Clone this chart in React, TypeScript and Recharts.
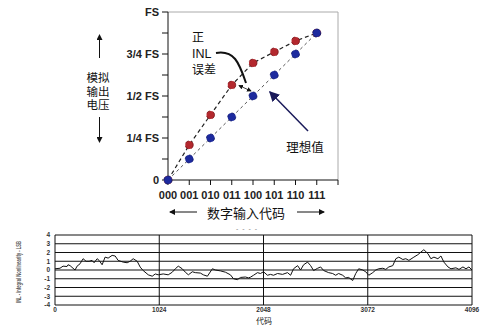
import { LineChart, Line, XAxis, YAxis, CartesianGrid, ReferenceLine } from 'recharts';

// top chart: 3-bit DAC transfer function
const inputCodes = ['000', '001', '010', '011', '100', '101', '110', '111'];
const idealOutput = [0, 1, 2, 3, 4, 5, 6, 7]; // in 1/8 FS
const actualOutput = [0, 1.67, 3.1, 4.52, 5.57, 6.1, 6.62, 7];
const fsTicks = [0, 1, 2, 3, 4, 5, 6, 7, 8];
const fsLabels: Record<number, string> = { 0: '0', 2: '1/4 FS', 4: '1/2 FS', 6: '3/4 FS', 8: 'FS' };

// bottom chart: INL vs code
const inlCodes = [
    0, 49, 79, 118, 128, 148, 177, 197, 217, 246, 276, 305, 335, 364, 384, 414, 433, 463, 492, 522,
    561, 591, 620, 670, 709, 738, 768, 807, 837, 866, 916, 955, 985, 1014, 1063, 1112, 1152, 1182,
    1211, 1250, 1280, 1310, 1349, 1378, 1428, 1457, 1497, 1546, 1575, 1625, 1674, 1723, 1753, 1792,
    1822, 1871, 1900, 1920, 1950, 1989, 2018, 2048, 2087, 2117, 2146, 2186, 2235, 2284, 2314, 2343,
    2383, 2412, 2442, 2481, 2511, 2540, 2580, 2609, 2639, 2688, 2727, 2757, 2786, 2826, 2855, 2885,
    2924, 2954, 2983, 3023, 3052, 3082, 3121, 3151, 3180, 3220, 3249, 3279, 3318, 3348, 3377, 3417,
    3446, 3476, 3525, 3564, 3594, 3623, 3663, 3692, 3722, 3761, 3791, 3820, 3860, 3889, 3938, 3968,
    4007, 4037, 4066, 4096,
];
const inlValues = [
    0.14, 0.2, 0.44, 0.4, 0.6, 0.5, 0.2, 0.0, 0.44, 0.71, 1.29, 1.0, 1.0, 1.1, 0.83, 1.29, 1.1, 0.6, 1.47, 1.36,
    1.67, 1.6, 1.1, 0.9, 0.83, 1.0, 1.29, 1.0, 0.33, -0.06, -0.55, -0.71, -0.45, -0.55, -0.45, -0.55, -0.25, 0.14,
    0.44, 0.14, -0.25, -0.55, -0.2, -0.3, -0.35, -0.55, -0.71, 0.14, 0.0, -0.1, -0.25, -0.55, -1.0, -1.1,
    -0.85, -0.8, -0.9, -0.82, -0.6, -0.3, -0.4, -0.2, -0.6, -0.5, -0.6, -0.4, -0.5, -0.3, -0.6, 0.14,
    0.5, 0.0, 0.6, 0.9, 0.5, -0.06, 0.2, 0.35, -0.06, -0.3, -0.4, -0.6, -0.4, -0.6, -0.9, -0.85,
    -1.2, -0.4, 0.14, 0.0, -0.2, -0.6, -0.3, 0.0, 0.14, 0.2, 0.07, 0.35, 0.5, 1.29, 1.47, 1.2,
    1.29, 1.1, 1.47, 1.75, 2.05, 2.32, 1.87, 1.29, 1.47, 1.29, 1.6, 0.9, 0.35, 0.14, 0.25, 0.07,
    0.35, 0.14, 0.35, 0.0,
];
const inlXTicks = [0, 1024, 2048, 3072, 4096];
const inlYTicks = [-4, -3, -2, -1, 0, 1, 2, 3, 4];

const dacData = inputCodes.map((code, i) => ({ x: i, code, ideal: idealOutput[i], actual: actualOutput[i] }));
const inlData = inlCodes.map((c, i) => ({ code: c, inl: inlValues[i] }));

const latin = '"Liberation Sans", Arial, sans-serif';
const cjk = '"Noto Sans CJK SC", sans-serif';
const tickStyle = { fontSize: 11, fontWeight: 'bold' as const, fill: '#222', fontFamily: latin };
const smallTick = { fontSize: 6.5, fontWeight: 'bold' as const, fill: '#333', fontFamily: latin };

function DacChart() {
    return (
        <LineChart width={500} height={225} data={dacData} margin={{ top: 12, right: 162, left: 108, bottom: 15 }}>
            <ReferenceLine y={8} stroke="#aaa" />
            <ReferenceLine x={8} stroke="#aaa" />
            <XAxis
                dataKey="x"
                type="number"
                domain={[0, 8]}
                ticks={fsTicks}
                interval={0}
                height={30}
                tickSize={5}
                tickMargin={6}
                stroke="#111"
                tick={tickStyle}
                tickFormatter={(v: number) => inputCodes[v] ?? ''}
            />
            <YAxis
                type="number"
                domain={[0, 8]}
                ticks={fsTicks}
                interval={0}
                width={60}
                tickSize={6}
                tickMargin={3}
                stroke="#111"
                tick={tickStyle}
                tickFormatter={(v: number) => fsLabels[v] ?? ''}
            />
            <Line
                dataKey="actual"
                stroke="#222"
                strokeWidth={1.2}
                strokeDasharray="4 3"
                dot={{ r: 4, fill: '#b3282e', stroke: '#7a1a1e', strokeWidth: 0.8 }}
                isAnimationActive={false}
            />
            <Line
                dataKey="ideal"
                stroke="#555"
                strokeWidth={1}
                strokeDasharray="3 3"
                dot={{ r: 4, fill: '#1d2a9e', stroke: '#111a6a', strokeWidth: 0.8 }}
                isAnimationActive={false}
            />
        </LineChart>
    );
}

function InlChart() {
    return (
        <LineChart width={500} height={100} data={inlData} margin={{ top: 10, right: 28, left: 35, bottom: 8 }}>
            <CartesianGrid stroke="#111" strokeWidth={1} />
            <XAxis
                dataKey="code"
                type="number"
                domain={[0, 4096]}
                ticks={inlXTicks}
                interval={0}
                height={12}
                tickSize={0}
                tickMargin={2}
                axisLine={false}
                tick={smallTick}
            />
            <YAxis
                type="number"
                domain={[-4, 4]}
                ticks={inlYTicks}
                interval={0}
                width={20}
                tickSize={0}
                tickMargin={5}
                axisLine={false}
                tick={smallTick}
            />
            <Line
                dataKey="inl"
                type="linear"
                stroke="#111"
                strokeWidth={1}
                dot={false}
                isAnimationActive={false}
            />
        </LineChart>
    );
}

function Annotations() {
    return (
        <svg width={500} height={325} style={{ position: 'absolute', left: 0, top: 0, pointerEvents: 'none' }}>
            <defs>
                <marker id="ah" markerWidth="6" markerHeight="6" refX="5" refY="3" orient="auto-start-reverse">
                    <path d="M0,0 L6,3 L0,6 Z" fill="#111" />
                </marker>
                <marker id="ahNavy" markerWidth="7" markerHeight="7" refX="6" refY="3.5" orient="auto">
                    <path d="M0,0 L7,3.5 L0,7 Z" fill="#1a1a5a" />
                </marker>
            </defs>
            {/* y axis title */}
            <line x1={99.5} y1={58} x2={99.5} y2={35} stroke="#111" strokeWidth={1} markerEnd="url(#ah)" />
            <line x1={99.5} y1={117} x2={99.5} y2={142} stroke="#111" strokeWidth={1} markerEnd="url(#ah)" />
            <g fontFamily={cjk} fontSize={11.5} fill="#111" textAnchor="middle">
                <text x={98} y={82}>模拟</text>
                <text x={98} y={95.5}>输出</text>
                <text x={98} y={109}>电压</text>
            </g>
            {/* x axis title */}
            <line x1={197} y1={212} x2={170} y2={212} stroke="#111" strokeWidth={1} markerEnd="url(#ah)" />
            <line x1={297} y1={212} x2={324} y2={212} stroke="#111" strokeWidth={1} markerEnd="url(#ah)" />
            <text x={246} y={218} fontFamily={cjk} fontSize={13} fill="#111" textAnchor="middle">数字输入代码</text>
            {/* positive INL callout */}
            <text x={192} y={42} fontFamily={cjk} fontSize={12} fill="#111">正</text>
            <text x={192} y={58} fontFamily={latin} fontSize={12.5} fill="#111">INL</text>
            <text x={192} y={74} fontFamily={cjk} fontSize={12} fill="#111">误差</text>
            <path d="M216,53 C234,50 239,62 246,83" fill="none" stroke="#111" strokeWidth={2} />
            <line x1={239} y1={85.5} x2={251} y2={91} stroke="#111" strokeWidth={0.8} markerStart="url(#ah)" markerEnd="url(#ah)" />
            {/* ideal callout */}
            <line x1={308} y1={131} x2={270} y2={92} stroke="#1a1a5a" strokeWidth={1.5} markerEnd="url(#ahNavy)" />
            <text x={305} y={152} fontFamily={cjk} fontSize={12.5} fill="#111" textAnchor="middle">理想值</text>
            {/* bottom chart extras */}
            <text x={247} y={231} fontFamily={latin} fontSize={7} fill="#888" textAnchor="middle" letterSpacing={1}>- - - -</text>
            <text
                x={21}
                y={272}
                transform="rotate(-90 21 272)"
                fontFamily={latin}
                fontSize={6.5}
                fontWeight="bold"
                fill="#555"
                textAnchor="middle"
                textLength={62}
                lengthAdjust="spacingAndGlyphs"
            >
                INL - Integral Nonlinearity - LSB
            </text>
            <text x={264} y={323.5} fontFamily={cjk} fontSize={8} fill="#222" textAnchor="middle">代码</text>
        </svg>
    );
}

export default function App() {
    return (
        <div style={{ position: 'absolute', left: 0, top: 0, width: 500, height: 325, background: '#fff' }}>
            <div style={{ position: 'absolute', left: 0, top: 0 }}>
                <DacChart />
            </div>
            <div style={{ position: 'absolute', left: 0, top: 225 }}>
                <InlChart />
            </div>
            <Annotations />
        </div>
    );
}
